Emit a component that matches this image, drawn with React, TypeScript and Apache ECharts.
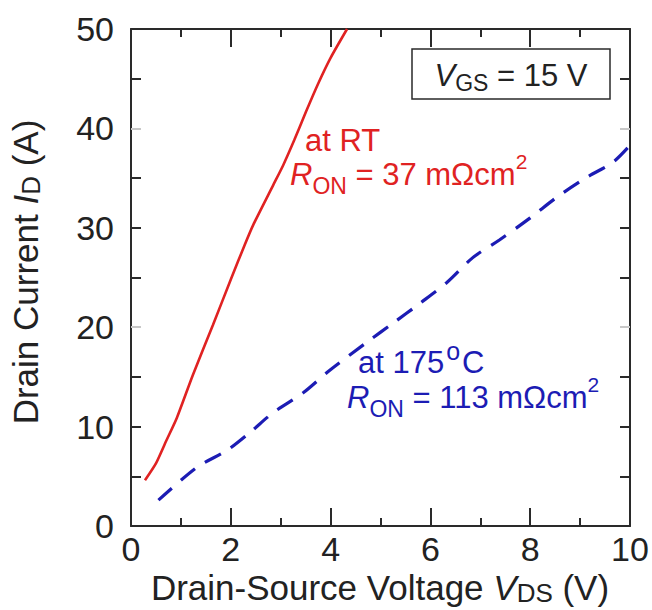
import React, { useEffect, useRef } from "react";
import * as echarts from "echarts";

const rtV = [0.28, 0.5, 0.7, 0.92, 1.24, 1.64, 2.0, 2.28, 2.45, 2.85, 3.05, 3.27, 3.5, 3.75, 4.0, 4.33];
const rtI = [4.6, 6.3, 8.5, 10.9, 15.2, 20.2, 24.8, 28.3, 30.3, 34.3, 36.3, 38.8, 41.6, 44.5, 47.1, 50];
const htV = [0.55, 1.32, 1.92, 2.38, 2.85, 3.45, 3.99, 4.73, 5.25, 5.79, 6.33, 6.85, 7.39, 8.0, 8.54, 9.14, 9.66, 10.0];
const htI = [2.6, 5.9, 7.6, 9.4, 11.4, 13.4, 15.7, 18.5, 20.4, 22.4, 24.5, 27.0, 28.8, 31.0, 33.1, 35.1, 36.6, 38.3];
const darkYTicks = [5, 10, 15, 25, 30, 35, 45];
const lightYTicks = [20, 40];

const FONT = "'Liberation Sans', Arial, sans-serif";
const AX = "#2a2a2a";
const RED = "#e02222";
const BLUE = "#1c1cb4";

const richAnn = {
  i: { fontStyle: "italic", fontSize: 31, fontFamily: FONT, lineHeight: 38 },
  s: { fontSize: 23, fontFamily: FONT, verticalAlign: "bottom", lineHeight: 28 },
  p: { fontSize: 21, fontFamily: FONT, verticalAlign: "top", lineHeight: 46 },
  o: { fontSize: 25, fontFamily: FONT, verticalAlign: "top", lineHeight: 48, padding: [0, 2, 0, 2] },
};
const richTitle = {
  i: { fontStyle: "italic", fontSize: 35, fontFamily: FONT, lineHeight: 38 },
  s: { fontSize: 26, fontFamily: FONT, verticalAlign: "bottom", lineHeight: 28 },
};

export default function App() {
  const ref = useRef<HTMLDivElement>(null);
  useEffect(() => {
    document.body.style.margin = "0";
    const chart = echarts.init(ref.current!, null, { renderer: "svg" });
    const xCommon = {
      type: "value",
      min: 0,
      max: 10,
      interval: 2,
      splitLine: { show: false },
      minorSplitLine: { show: false },
      axisLine: { show: true, onZero: false, lineStyle: { color: AX, width: 2 } },
      axisTick: { show: true, inside: true, length: 18, lineStyle: { color: AX, width: 2 } },
      minorTick: { show: true, splitNumber: 2, length: 8, lineStyle: { color: AX, width: 2 } },
    };
    const yBase = (pos: string, custom: number[], color: string, labels: boolean, line: boolean) => ({
      type: "value",
      min: 0,
      max: 50,
      interval: 10,
      position: pos,
      splitLine: { show: false },
      axisLine: { show: line, onZero: false, lineStyle: { color: AX, width: 2 } },
      axisTick: { show: true, inside: true, length: 10, customValues: custom, lineStyle: { color, width: 2 } },
      axisLabel: labels
        ? { show: true, fontSize: 34, color: "#222", fontFamily: FONT, margin: 17 }
        : { show: false },
    });
    chart.setOption({
      animation: false,
      grid: { left: 131, top: 29, right: 22, bottom: 84, containLabel: false },
      xAxis: [
        {
          ...xCommon,
          position: "bottom",
          axisLabel: { fontSize: 34, color: "#222", fontFamily: FONT, margin: 6 },
        },
        { ...xCommon, position: "top", axisLabel: { show: false } },
      ],
      yAxis: [
        yBase("left", darkYTicks, AX, true, true),
        yBase("right", darkYTicks, AX, false, true),
        yBase("left", lightYTicks, "#c8c8c8", false, false),
        yBase("right", lightYTicks, "#c8c8c8", false, false),
      ],
      series: [
        {
          type: "line",
          data: rtV.map((v, i) => [v, rtI[i]]),
          showSymbol: false,
          smooth: 0.2,
          lineStyle: { color: RED, width: 2.6 },
          z: 3,
        },
        {
          type: "line",
          data: htV.map((v, i) => [v, htI[i]]),
          showSymbol: false,
          smooth: 0.3,
          lineStyle: { color: BLUE, width: 3.2, type: [18, 12] },
          z: 3,
        },
      ],
      graphic: [
        {
          type: "rect",
          shape: { x: 412, y: 49, width: 198, height: 50 },
          style: { fill: "#fff", stroke: AX, lineWidth: 1.5 },
          z: 10,
        },
        {
          type: "text",
          x: 511,
          y: 75,
          z: 11,
          style: {
            text: "{i|V}{s|GS} = 15 V",
            fill: "#222",
            font: `31px ${FONT}`,
            align: "center",
            verticalAlign: "middle",
            rich: richAnn,
          },
        },
        {
          type: "text",
          x: 305,
          y: 140,
          z: 11,
          style: { text: "at RT", fill: RED, font: `31px ${FONT}`, align: "left", verticalAlign: "middle" },
        },
        {
          type: "text",
          x: 290,
          y: 174,
          z: 11,
          style: {
            text: "{i|R}{s|ON} = 37 mΩcm{p|2}",
            fill: RED,
            font: `31px ${FONT}`,
            align: "left",
            verticalAlign: "middle",
            rich: richAnn,
          },
        },
        {
          type: "text",
          x: 358,
          y: 362,
          z: 11,
          style: {
            text: "at 175{o|o}C",
            fill: BLUE,
            font: `31px ${FONT}`,
            align: "left",
            verticalAlign: "middle",
            rich: richAnn,
          },
        },
        {
          type: "text",
          x: 347,
          y: 397,
          z: 11,
          style: {
            text: "{i|R}{s|ON} = 113 mΩcm{p|2}",
            fill: BLUE,
            font: `31px ${FONT}`,
            align: "left",
            verticalAlign: "middle",
            rich: richAnn,
          },
        },
        {
          type: "text",
          x: 380,
          y: 587,
          style: {
            text: "Drain-Source Voltage {i|V}{s|DS} (V)",
            fill: "#222",
            font: `35px ${FONT}`,
            align: "center",
            verticalAlign: "middle",
            rich: richTitle,
          },
        },
        {
          type: "text",
          x: 25,
          y: 272,
          rotation: Math.PI / 2,
          style: {
            text: "Drain Current {i|I}{s|D} (A)",
            fill: "#222",
            font: `35px ${FONT}`,
            align: "center",
            verticalAlign: "middle",
            rich: richTitle,
          },
        },
      ],
    });
    return () => chart.dispose();
  }, []);
  return <div ref={ref} style={{ width: 652, height: 610 }} />;
}
